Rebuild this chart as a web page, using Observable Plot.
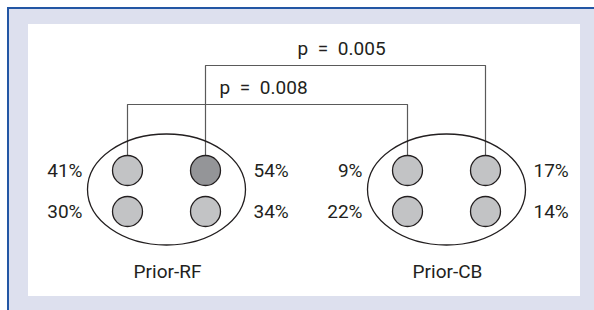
<!DOCTYPE html>
<html>
<head>
<meta charset="utf-8">
<script src="https://cdn.jsdelivr.net/npm/d3@7"></script>
<script src="https://cdn.jsdelivr.net/npm/@observablehq/plot@0.6"></script>
<style>
  html, body { margin: 0; padding: 0; background: #ffffff; }
  #wrap { position: relative; width: 594px; height: 310px; overflow: hidden; }
  #bg { position: absolute; left: 7px; top: 7px; width: 587px; height: 303px; box-sizing: border-box;
        background: #dde0ee; border-top: 2px solid #2356a4; border-left: 2px solid #2356a4; }
  #panel { position: absolute; left: 28px; top: 24px; width: 552px; height: 272px; background: #ffffff; }
  #chart { position: absolute; left: 0; top: 0; }
</style>
</head>
<body>
<div id="wrap"><div id="bg"></div><div id="panel"></div><div id="chart"></div></div>
<script>
// ---- data ----
const groups = ["Prior-RF", "Prior-CB"];
const cellNames = ["top-left", "top-right", "bottom-left", "bottom-right"];
const priorRFValues = [41, 54, 30, 34];
const priorCBValues = [9, 17, 22, 14];
const highlightedCells = ["Prior-RF top-right"];
const comparisonCells = ["top-left", "top-right"];   // Prior-RF vs Prior-CB, same cell
const comparisonP = ["0.008", "0.005"];

// ---- layout (pixel units) ----
const W = 594, H = 310;
const groupX = {"Prior-RF": 166, "Prior-CB": 446};
const colDx = {left: -39, right: 39};
const rowY = {top: 170, bottom: 211};
const circleR = 15;
const ellipseY = 189, ellipseRx = 79, ellipseRy = 55.5;
const bracketY = {"top-left": 104, "top-right": 65};
const groupLabelY = 271;

const valuesByGroup = {"Prior-RF": priorRFValues, "Prior-CB": priorCBValues};
const cells = [];
for (const g of groups) {
  cellNames.forEach((c, i) => {
    const [row, col] = c.split("-");
    cells.push({
      group: g, cell: c, row, col,
      value: valuesByGroup[g][i],
      x: groupX[g] + colDx[col],
      y: rowY[row],
      hi: highlightedCells.includes(g + " " + c)
    });
  });
}
const cellAt = (g, c) => cells.find(d => d.group === g && d.cell === c);

const brackets = [];
const pLabels = [];
comparisonCells.forEach((c, i) => {
  const a = cellAt(groups[0], c), b = cellAt(groups[1], c);
  const yb = bracketY[c];
  const top = a.y - circleR;
  brackets.push(
    {id: i, x: a.x, y: top}, {id: i, x: a.x, y: yb},
    {id: i, x: b.x, y: yb}, {id: i, x: b.x, y: top}
  );
  pLabels.push({x: (a.x + b.x) / 2 - 4, y: yb - 17, text: "p\u2002=\u2002" + comparisonP[i]});
});

const ellipseSymbol = {
  draw(ctx) {
    const rx = ellipseRx, ry = ellipseRy, k = 0.5522847498;
    ctx.moveTo(rx, 0);
    ctx.bezierCurveTo(rx, ry * k, rx * k, ry, 0, ry);
    ctx.bezierCurveTo(-rx * k, ry, -rx, ry * k, -rx, 0);
    ctx.bezierCurveTo(-rx, -ry * k, -rx * k, -ry, 0, -ry);
    ctx.bezierCurveTo(rx * k, -ry, rx, -ry * k, rx, 0);
    ctx.closePath();
  }
};

const groupData = groups.map(g => ({group: g, x: groupX[g], y: ellipseY}));
const textColor = "#231f20";

const plot = Plot.plot({
  width: W, height: H,
  margin: 0,
  x: {domain: [0, W], range: [0, W], axis: null},
  y: {domain: [0, H], range: [0, H], axis: null},
  style: {background: "transparent", fontFamily: "Roboto, 'Liberation Sans', sans-serif"},
  marks: [
    Plot.line(brackets, {x: "x", y: "y", z: "id", stroke: "#5a5a5a", strokeWidth: 1.2, curve: "linear"}),
    Plot.dot(groupData, {x: "x", y: "y", symbol: ellipseSymbol, r: 10, fill: "none", stroke: textColor, strokeWidth: 1.3}),
    Plot.dot(cells, {x: "x", y: "y", r: circleR, fill: d => d.hi ? "#949598" : "#c2c3c5", stroke: textColor, strokeWidth: 1.3}),
    Plot.text(cells.filter(d => d.col === "left"), {x: d => d.x - 45, y: "y", text: d => d.value + "%", textAnchor: "end", fontSize: 19, fill: textColor}),
    Plot.text(cells.filter(d => d.col === "right"), {x: d => d.x + 48, y: "y", text: d => d.value + "%", textAnchor: "start", fontSize: 19, fill: textColor}),
    Plot.text(pLabels, {x: "x", y: "y", text: "text", fontSize: 19, fill: textColor}),
    Plot.text(groupData, {x: d => d.x + 1, y: () => groupLabelY, text: "group", fontSize: 19, fill: textColor})
  ]
});
document.getElementById("chart").appendChild(plot);
</script>
</body>
</html>
